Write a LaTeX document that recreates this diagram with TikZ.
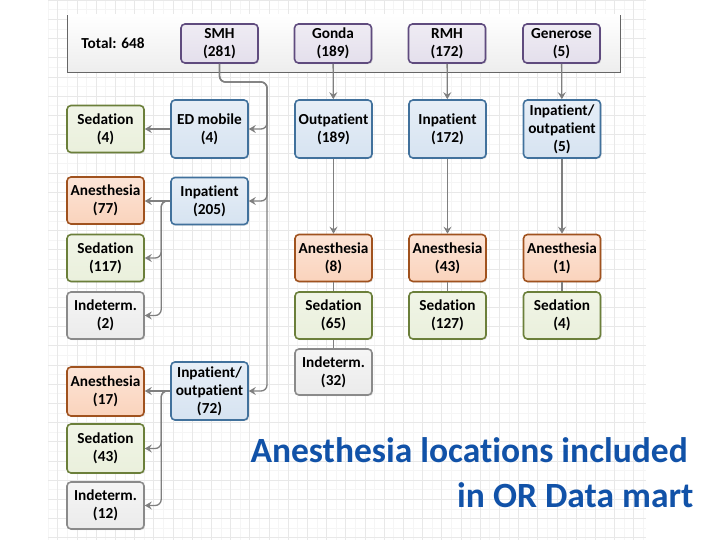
\documentclass[tikz,border=0pt]{standalone}
\usepackage{fontspec}
\setmainfont{Carlito}[Ligatures={NoCommon}]
\usetikzlibrary{arrows.meta,shadows}
\definecolor{lnk}{HTML}{7F7F7F}
\definecolor{purpleline}{HTML}{5F4B7E}
\definecolor{purplefill}{HTML}{E4DFEC}
\definecolor{blueline}{HTML}{41719C}
\definecolor{bluefill}{HTML}{D6E3F1}
\definecolor{orangeline}{HTML}{A0521E}
\definecolor{orangefill}{HTML}{FAD3BC}
\definecolor{greenline}{HTML}{6B7F3A}
\definecolor{greenfill}{HTML}{EAF0DC}
\definecolor{grayline}{HTML}{8A8A8A}
\definecolor{grayfill}{HTML}{EBEBEB}
\definecolor{titleblue}{HTML}{1152A8}

\begin{document}
\begin{tikzpicture}[x=1pt, y=-1pt,
	box/.style={rounded corners=4pt, line width=1.6pt, minimum width=77pt, minimum height=47pt,
		inner sep=1pt, align=center, font=\fontsize{15.3}{18}\selectfont\bfseries,
		drop shadow={opacity=0.2, shadow xshift=1.2pt, shadow yshift=-1.2pt}},
	site/.style={box, draw=purpleline, top color=purplefill!60, bottom color=purplefill, minimum height=39pt},
	ward/.style={box, draw=blueline, top color=bluefill!60, bottom color=bluefill},
	anes/.style={box, draw=orangeline, top color=orangefill!60, bottom color=orangefill},
	sed/.style={box, draw=greenline, top color=greenfill!70, bottom color=greenfill},
	ind/.style={box, draw=grayline, top color=grayfill!50, bottom color=grayfill},
	lnk/.style={draw=lnk, line width=1.3pt},
	arr/.style={lnk, -{Stealth[length=7pt, width=8pt, inset=2.5pt]}}]
	\useasboundingbox (0,0) rectangle (720,540);
	\draw[gray!8, xstep=9.6pt, ystep=9.6pt] (48,0) grid (646,540);
	\draw[gray!18, xstep=19.2pt, ystep=19.2pt] (48,0) grid (646,540);

	\shade[top color=white, bottom color=gray!14] (67,15) rectangle (620,72);
	\draw[gray!80!black, line width=0.8pt] (67,15) -- (67,72) -- (620,72) -- (620,15);
	\node[font=\fontsize{15.3}{18}\selectfont\bfseries] (T) at (113,43) {Total: 648};

	\node[site] (SMH) at (219.5,43.5) {SMH\\(281)};
	\node[site] (GON) at (333,43.5) {Gonda\\(189)};
	\node[site] (RMH) at (447,43.5) {RMH\\(172)};
	\node[site] (GEN) at (561.5,43.5) {Generose\\(5)};

	\node[sed] (S4) at (105.5,129) {Sedation\\(4)};
	\node[ward, minimum height=58pt] (ED) at (209.5,129) {ED mobile\\(4)};
	\node[ward, minimum height=58pt] (OUT) at (333.5,129) {Outpatient\\(189)};
	\node[ward, minimum height=58pt] (IN) at (447.5,129) {Inpatient\\(172)};
	\node[ward, minimum height=58pt] (IO) at (562,129) {Inpatient/\\outpatient\\(5)};

	\node[anes] (A77) at (105.5,200.5) {Anesthesia\\(77)};
	\node[ward] (I205) at (209.5,201) {Inpatient\\(205)};
	\node[sed] (S117) at (105.5,258) {Sedation\\(117)};
	\node[ind] (D2) at (105.5,315.5) {Indeterm.\\(2)};

	\node[anes] (A8) at (333.5,258) {Anesthesia\\(8)};
	\node[sed] (S65) at (333.5,315.5) {Sedation\\(65)};
	\node[ind, minimum height=46pt] (D32) at (333.5,372) {Indeterm.\\(32)};
	\node[anes] (A43) at (447.5,258) {Anesthesia\\(43)};
	\node[sed] (S127) at (447.5,315.5) {Sedation\\(127)};
	\node[anes] (A1) at (562,258) {Anesthesia\\(1)};
	\node[sed] (S4b) at (562,315.5) {Sedation\\(4)};

	\node[anes, minimum height=49pt] (A17) at (105.5,391.5) {Anesthesia\\(17)};
	\node[ward, minimum height=58pt] (IO72) at (209.5,391) {Inpatient/\\outpatient\\(72)};
	\node[sed, minimum height=49pt] (S43) at (105.5,448.5) {Sedation\\(43)};
	\node[ind] (D12) at (105.5,505.5) {Indeterm.\\(12)};

	\node[anchor=base west, text=titleblue, font=\fontsize{35.5}{40}\selectfont\bfseries] (L1) at (247,462) {Anesthesia locations included};
	\node[anchor=base east, text=titleblue, font=\fontsize{35.5}{40}\selectfont\bfseries] (L2) at (697,507) {in OR Data mart};

	\coordinate (bend) at (267,82);
	\draw[arr, rounded corners=6pt] (SMH.south) |- (bend) |- (ED.east);
	\draw[arr, rounded corners=6pt] (SMH.south) |- (bend) |- (I205.east);
	\draw[arr, rounded corners=6pt] (SMH.south) |- (bend) |- (IO72.east);

	\draw[arr] (ED.west) -- (S4.east);
	\draw[arr] (I205.west) -- (A77.east |- I205.west);
	\draw[arr, rounded corners=6pt] (I205.west) -- ++(-9,0) |- (S117.east);
	\draw[arr, rounded corners=6pt] (I205.west) -- ++(-9,0) |- (D2.east);
	\draw[arr] (IO72.west) -- (A17.east |- IO72.west);
	\draw[arr, rounded corners=6pt] (IO72.west) -- ++(-9,0) |- (S43.east);
	\draw[arr, rounded corners=6pt] (IO72.west) -- ++(-9,0) |- (D12.east);

	\draw[arr] (GON) -- (OUT);
	\draw[arr] (RMH) -- (IN);
	\draw[arr] (GEN) -- (IO);
	\draw[arr] (OUT) -- (A8);
	\draw[arr] (IN) -- (A43);
	\draw[arr] (IO) -- (A1);
	\draw[lnk] (A8) -- (S65);
	\draw[lnk] (S65) -- (D32);
	\draw[lnk] (A43) -- (S127);
	\draw[lnk] (A1) -- (S4b);
\end{tikzpicture}
\end{document}
